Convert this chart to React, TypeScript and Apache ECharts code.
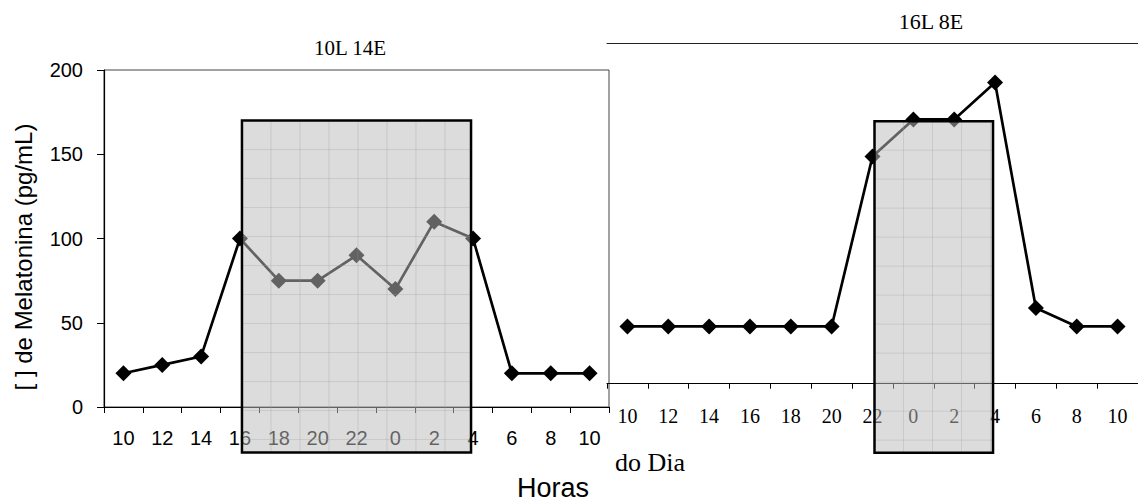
import React, { useEffect, useRef } from "react";
import * as echarts from "echarts";

// ---- data ----
const hourLabels = ["10", "12", "14", "16", "18", "20", "22", "0", "2", "4", "6", "8", "10"];
const melatonin10L14E = [20, 25, 30, 100, 75, 75, 90, 70, 110, 100, 20, 20, 20];
const melatonin16L8E = [48, 48, 48, 48, 48, 48, 149, 171, 171, 193, 59, 48, 48];
const yTickMin = 0;
const yTickMax = 200;
const yTickStep = 50;
// dark-phase boxes (category indices and value range)
const darkBox10L = { start: 3, end: 9 };
const darkBox16L = { start: 6, end: 9 };
const darkBoxTop = 170;
const darkBoxBottom = -27;
// right panel value window (no visible labels)
const rightMin = 14;
const rightMax = 216;

const titleLeft = "10L 14E";
const titleRight = "16L 8E";
const yTitle = "[ ] de Melatonina (pg/mL)";
const xTitleA = "Horas";
const xTitleB = "do Dia";

const SANS = '"Liberation Sans", Arial, sans-serif';
const SERIF = '"Liberation Serif", "Times New Roman", serif';

function boxElements(chart: any, gridIndex: number, box: { start: number; end: number }) {
  const pTop = chart.convertToPixel({ gridIndex }, [box.start, darkBoxTop]);
  const pBot = chart.convertToPixel({ gridIndex }, [box.end, darkBoxBottom]);
  const x0 = pTop[0] + 2;
  const y0 = pTop[1];
  const x1 = pBot[0] - 2;
  const y1 = pBot[1];
  const els: any[] = [];
  els.push({
    type: "rect",
    z: 100,
    shape: { x: x0, y: y0, width: x1 - x0, height: y1 - y0 },
    style: { fill: "rgba(187,187,187,0.52)", stroke: "none" },
    silent: true,
  });
  const cell = 29;
  for (let x = x0 + cell; x < x1 - 1; x += cell) {
    els.push({
      type: "line",
      z: 101,
      shape: { x1: x, y1: y0, x2: x, y2: y1 },
      style: { stroke: "rgba(160,160,160,0.3)", lineWidth: 1 },
      silent: true,
    });
  }
  for (let y = y0 + cell; y < y1 - 1; y += cell) {
    els.push({
      type: "line",
      z: 101,
      shape: { x1: x0, y1: y, x2: x1, y2: y },
      style: { stroke: "rgba(160,160,160,0.3)", lineWidth: 1 },
      silent: true,
    });
  }
  els.push({
    type: "rect",
    z: 102,
    shape: { x: x0, y: y0, width: x1 - x0, height: y1 - y0 },
    style: { fill: "none", stroke: "#000", lineWidth: 2.5 },
    silent: true,
  });
  return els;
}

export default function App() {
  const ref = useRef<HTMLDivElement>(null);

  useEffect(() => {
    if (!ref.current) return;
    const chart = echarts.init(ref.current, undefined, { renderer: "svg" });

    const lineSeries = (data: number[], idx: number) => ({
      type: "line",
      xAxisIndex: idx,
      yAxisIndex: idx,
      data,
      symbol: "diamond",
      symbolSize: 16,
      itemStyle: { color: "#000" },
      lineStyle: { color: "#000", width: 2.7 },
      z: 3,
    });

    chart.setOption({
      animation: false,
      backgroundColor: "#fff",
      grid: [
        {
          left: 104,
          top: 70,
          width: 505,
          height: 337,
          show: true,
          borderColor: "#444",
          borderWidth: 1,
          backgroundColor: "transparent",
        },
        { left: 607, top: 43.7, width: 541, height: 340 },
      ],
      xAxis: [
        {
          type: "category",
          gridIndex: 0,
          data: hourLabels,
          boundaryGap: true,
          axisLine: { show: true, lineStyle: { color: "#000", width: 1.2 } },
          axisTick: { show: true, length: 6, lineStyle: { color: "#000" } },
          axisLabel: { color: "#000", fontFamily: SANS, fontSize: 20, margin: 21, interval: 0 },
          splitLine: { show: false },
        },
        {
          type: "category",
          gridIndex: 1,
          data: hourLabels,
          boundaryGap: true,
          axisLine: { show: true, lineStyle: { color: "#000", width: 1.2 } },
          axisTick: { show: true, length: 5, lineStyle: { color: "#000" } },
          axisLabel: { color: "#000", fontFamily: SERIF, fontSize: 20, margin: 22, interval: 0 },
          splitLine: { show: false },
        },
        {
          type: "category",
          gridIndex: 1,
          position: "top",
          data: hourLabels,
          axisLine: { show: true, lineStyle: { color: "#222", width: 1 } },
          axisTick: { show: false },
          axisLabel: { show: false },
          splitLine: { show: false },
        },
      ],
      yAxis: [
        {
          type: "value",
          gridIndex: 0,
          min: yTickMin,
          max: yTickMax,
          interval: yTickStep,
          axisLine: { show: true, lineStyle: { color: "#000", width: 1.2 } },
          axisTick: { show: true, length: 7, lineStyle: { color: "#000" } },
          axisLabel: { color: "#000", fontFamily: SANS, fontSize: 20, margin: 21 },
          splitLine: { show: false },
        },
        {
          type: "value",
          gridIndex: 1,
          min: rightMin,
          max: rightMax,
          show: false,
          splitLine: { show: false },
        },
      ],
      series: [lineSeries(melatonin10L14E, 0), lineSeries(melatonin16L8E, 1)],
    });

    const graphics: any[] = [
      ...boxElements(chart, 0, darkBox10L),
      ...boxElements(chart, 1, darkBox16L),
      {
        type: "text",
        x: 350,
        y: 48,
        style: { text: titleLeft, font: `21px ${SERIF}`, fill: "#000", textAlign: "center", textVerticalAlign: "middle" },
      },
      {
        type: "text",
        x: 931,
        y: 21,
        style: { text: titleRight, font: `22px ${SERIF}`, fill: "#000", textAlign: "center", textVerticalAlign: "middle" },
      },
      {
        type: "text",
        x: 23,
        y: 257,
        rotation: Math.PI / 2,
        style: { text: yTitle, font: `24px ${SANS}`, fill: "#000", textAlign: "center", textVerticalAlign: "middle" },
      },
      {
        type: "text",
        x: 517,
        y: 488,
        style: { text: xTitleA, font: `27px ${SANS}`, fill: "#000", textAlign: "left", textVerticalAlign: "middle" },
      },
      {
        type: "text",
        x: 615,
        y: 462,
        style: { text: xTitleB, font: `26px ${SERIF}`, fill: "#000", textAlign: "left", textVerticalAlign: "middle" },
      },
    ];
    chart.setOption({ graphic: graphics });

    return () => chart.dispose();
  }, []);

  return (
    <div
      ref={ref}
      style={{ position: "absolute", left: 0, top: 0, width: 1138, height: 502, overflow: "hidden" }}
    />
  );
}
